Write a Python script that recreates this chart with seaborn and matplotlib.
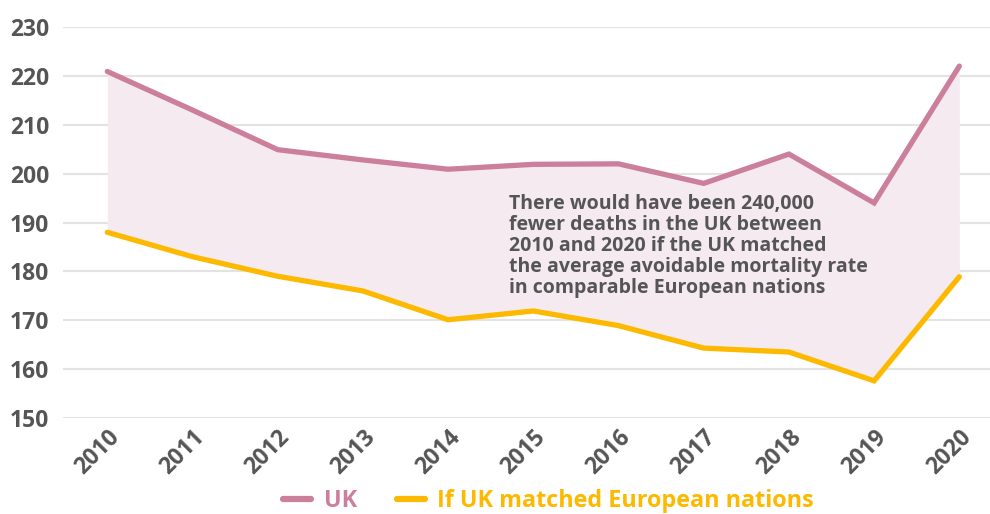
import matplotlib
matplotlib.use("Agg")
import matplotlib.pyplot as plt
import seaborn as sns
import pandas as pd
from matplotlib.lines import Line2D

years = [2010, 2011, 2012, 2013, 2014, 2015, 2016, 2017, 2018, 2019, 2020]
uk = [220.9, 213.0, 204.9, 202.8, 200.9, 201.9, 202.0, 198.0, 204.0, 194.0, 222.0]
europe = [188.0, 183.0, 179.0, 176.0, 170.1, 171.9, 168.9, 164.3, 163.5, 157.6, 178.9]
series_names = ["UK", "If UK matched European nations"]
yticks = [150, 160, 170, 180, 190, 200, 210, 220, 230]
note = ("There would have been 240,000\nfewer deaths in the UK between\n"
        "2010 and 2020 if the UK matched\nthe average avoidable mortality rate\n"
        "in comparable European nations")

PINK = "#CC7F9B"
YELLOW = "#FDB900"
FILL = "#F5EAEF"
TXT = "#555555"
GRID = "#E3E3E3"

sns.set_theme(style="white")
plt.rcParams["font.family"] = ["Open Sans", "DejaVu Sans"]
plt.rcParams["font.weight"] = "bold"

df = pd.DataFrame({
    "year": years * 2,
    "value": uk + europe,
    "series": [series_names[0]] * len(years) + [series_names[1]] * len(years),
})

fig = plt.figure(figsize=(9.9, 5.14), dpi=100)
ax = fig.add_axes([63 / 990, 1 - 418 / 514, 1 - 63 / 990, (418 - 27) / 514])

ax.fill_between(years, europe, uk, color=FILL, linewidth=0, zorder=1)
sns.lineplot(data=df, x="year", y="value", hue="series",
             palette={series_names[0]: PINK, series_names[1]: YELLOW},
             linewidth=3.8, ax=ax, legend=False, zorder=3)
for l in ax.lines:
    l.set_solid_capstyle("round")
    l.set_solid_joinstyle("miter")

ax.set_xlim(2009.48, 2020.36)
ax.set_ylim(150, 230)
ax.set_yticks(yticks)
ax.set_xticks(years)
ax.set_yticklabels([str(v) for v in yticks], fontsize=16.5, color=TXT, fontweight="bold")
ax.set_xticklabels([str(v) for v in years], fontsize=16.5, color=TXT, fontweight="bold",
                   rotation=45, ha="right", rotation_mode="anchor")
ax.tick_params(axis="y", length=0, pad=10)
ax.tick_params(axis="x", length=0, pad=5)
ax.yaxis.grid(True, color=GRID, linewidth=1.5, zorder=0)
ax.set_axisbelow(True)
for s in ax.spines.values():
    s.set_visible(False)
ax.set_xlabel("")
ax.set_ylabel("")

ax.text(2014.71, 195.8, note, fontsize=14, color=TXT, fontweight="bold",
        va="top", ha="left", linespacing=1.06, zorder=4)

handles = [Line2D([0], [0], color=PINK, lw=4.5, solid_capstyle="round"),
           Line2D([0], [0], color=YELLOW, lw=4.5, solid_capstyle="round")]
leg = fig.legend(handles, series_names, loc="center", bbox_to_anchor=(0.554, 0.025),
                 ncol=2, frameon=False, handlelength=1.2,
                 handletextpad=0.55, columnspacing=1.7,
                 prop={"weight": "bold", "size": 16.8})
for t, c in zip(leg.get_texts(), [PINK, YELLOW]):
    t.set_color(c)

fig.savefig("out.png", dpi=100)
